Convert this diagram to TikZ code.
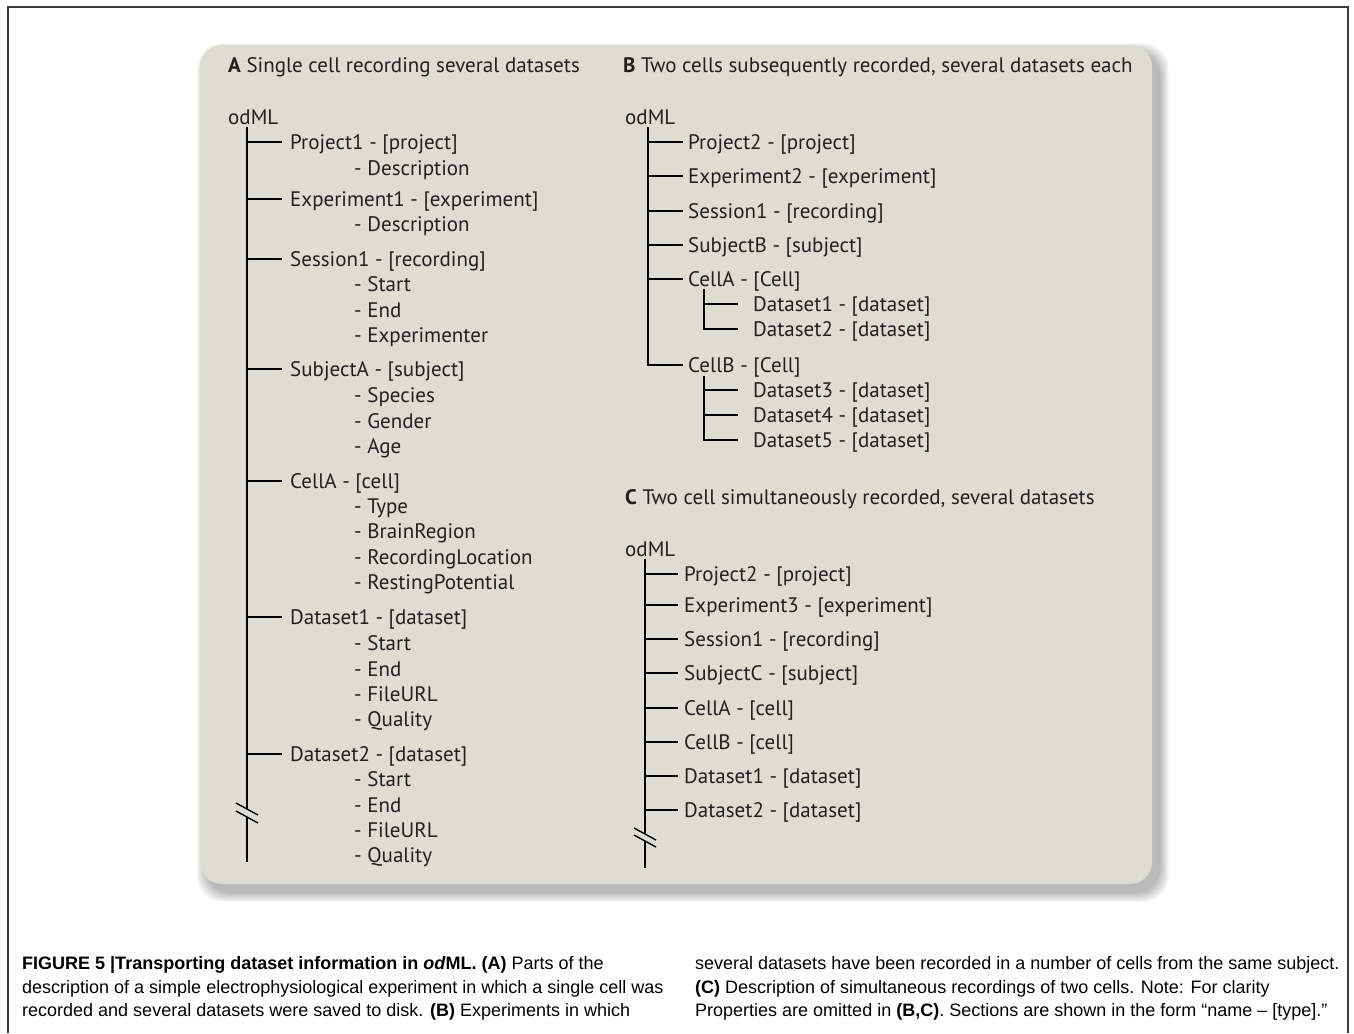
\documentclass[tikz,border=0pt]{standalone}
\usepackage{fontspec}
\setmainfont{PT Sans}
\newfontfamily\capfont{Liberation Sans}
\usetikzlibrary{positioning}
\definecolor{panelgrey}{RGB}{221,221,211}
\definecolor{inkgrey}{RGB}{35,31,32}
\definecolor{framegrey}{RGB}{60,60,60}

\begin{document}
\begin{tikzpicture}[
  x=1pt, y=-1pt,
  title/.style={anchor=west, inner sep=0pt, text=inkgrey, text height=15pt, text depth=0pt, font=\fontsize{21}{25}\selectfont},
  sec/.style={anchor=west, inner sep=0pt, text=inkgrey, text height=15pt, text depth=0pt, font=\fontsize{21}{25}\selectfont},
  prop/.style={anchor=north west, inner sep=0pt, text=inkgrey, align=left, font=\fontsize{21}{25.4}\selectfont},
  branch/.style={line width=1.8pt, black},
  cutmark/.style={line width=1.4pt, black},
  capline/.style={anchor=base west, inner sep=0pt, text=black, font=\capfont\fontsize{18}{23.5}\selectfont}
]
\useasboundingbox (0,0) rectangle (1354,1033);

% Outer frame
\draw[framegrey, line width=1.5pt] (8,1033) -- (8,7) -- (1348,7) -- (1348,1033);

% Panel with soft shadow
\foreach \s in {0,...,9}{
  \fill[black, opacity=0.03, rounded corners=26pt] (206-\s,52-\s) rectangle (1160+\s,893+\s);
}
\fill[panelgrey, rounded corners=22pt] (200,45) rectangle (1152,884);

% A: single cell, several datasets
\node[title] (titleA) at (228,65) {\textbf{A} Single cell recording several datasets};
\node[sec] (odmlA) at (228,117) {odML};
\coordinate (trunkA) at (247,127);
\coordinate (cutA1) at (247,809);
\coordinate (cutA2) at (247,817);
\coordinate (endA) at (247,862);

\node[sec] (project1) at (290,142) {Project1 - [project]};
\node[prop] (project1p) at (354,160.5) {- Description};
\node[sec] (experiment1) at (290,199) {Experiment1 - [experiment]};
\node[prop] (experiment1p) at (354,216.5) {- Description};
\node[sec] (session1A) at (290,259) {Session1 - [recording]};
\node[prop] (session1Ap) at (354,276.5) {- Start\\- End\\- Experimenter};
\node[sec] (subjectA) at (290,369) {SubjectA - [subject]};
\node[prop] (subjectAp) at (354,387.5) {- Species\\- Gender\\- Age};
\node[sec] (cellAA) at (290,481) {CellA - [cell]};
\node[prop] (cellAAp) at (354,498.5) {- Type\\- BrainRegion\\- RecordingLocation\\- RestingPotential};
\node[sec] (dataset1A) at (290,617) {Dataset1 - [dataset]};
\node[prop] (dataset1Ap) at (354,635.5) {- Start\\- End\\- FileURL\\- Quality};
\node[sec] (dataset2A) at (290,754) {Dataset2 - [dataset]};
\node[prop] (dataset2Ap) at (354,771.5) {- Start\\- End\\- FileURL\\- Quality};

\draw[branch] (trunkA) -- (cutA1);
\draw[branch] (cutA2) -- (endA);
\draw[cutmark] ([shift={(-11,-6)}]cutA1) -- ([shift={(11,6)}]cutA1);
\draw[cutmark] ([shift={(-11,-6)}]cutA2) -- ([shift={(11,6)}]cutA2);
\draw[branch] (trunkA |- project1.west) -- ([xshift=-8pt]project1.west);
\draw[branch] (trunkA |- experiment1.west) -- ([xshift=-8pt]experiment1.west);
\draw[branch] (trunkA |- session1A.west) -- ([xshift=-8pt]session1A.west);
\draw[branch] (trunkA |- subjectA.west) -- ([xshift=-8pt]subjectA.west);
\draw[branch] (trunkA |- cellAA.west) -- ([xshift=-8pt]cellAA.west);
\draw[branch] (trunkA |- dataset1A.west) -- ([xshift=-8pt]dataset1A.west);
\draw[branch] (trunkA |- dataset2A.west) -- ([xshift=-8pt]dataset2A.west);

% B: two cells recorded one after the other
\node[title] (titleB) at (623,65) {\textbf{B} Two cells subsequently recorded, several datasets each};
\node[sec] (odmlB) at (625,117) {odML};
\coordinate (trunkB) at (648,127);

\node[sec] (project2B) at (688,142) {Project2 - [project]};
\node[sec] (experiment2) at (688,176) {Experiment2 - [experiment]};
\node[sec] (session1B) at (688,211) {Session1 - [recording]};
\node[sec] (subjectB) at (688,245) {SubjectB - [subject]};
\node[sec] (cellAB) at (688,279) {CellA - [Cell]};
\node[sec] (dataset1B) at (753,304) {Dataset1 - [dataset]};
\node[sec] (dataset2B) at (753,329) {Dataset2 - [dataset]};
\node[sec] (cellBB) at (688,365) {CellB - [Cell]};
\node[sec] (dataset3B) at (753,390) {Dataset3 - [dataset]};
\node[sec] (dataset4B) at (753,415) {Dataset4 - [dataset]};
\node[sec] (dataset5B) at (753,440) {Dataset5 - [dataset]};
\coordinate (subAB) at (704,289);
\coordinate (subBB) at (704,376);

\draw[branch] (trunkB) |- ([xshift=-5pt]cellBB.west);
\draw[branch] (trunkB |- project2B.west) -- ([xshift=-5pt]project2B.west);
\draw[branch] (trunkB |- experiment2.west) -- ([xshift=-5pt]experiment2.west);
\draw[branch] (trunkB |- session1B.west) -- ([xshift=-5pt]session1B.west);
\draw[branch] (trunkB |- subjectB.west) -- ([xshift=-5pt]subjectB.west);
\draw[branch] (trunkB |- cellAB.west) -- ([xshift=-5pt]cellAB.west);
\draw[branch] (subAB) |- ([xshift=-15pt]dataset2B.west);
\draw[branch] (subAB |- dataset1B.west) -- ([xshift=-15pt]dataset1B.west);
\draw[branch] (subBB) |- ([xshift=-15pt]dataset5B.west);
\draw[branch] (subBB |- dataset3B.west) -- ([xshift=-15pt]dataset3B.west);
\draw[branch] (subBB |- dataset4B.west) -- ([xshift=-15pt]dataset4B.west);

% C: two cells recorded at the same time
\node[title] (titleC) at (625,497) {\textbf{C} Two cell simultaneously recorded, several datasets};
\node[sec] (odmlC) at (625,549) {odML};
\coordinate (trunkC) at (645,559);
\coordinate (cutC1) at (645,834);
\coordinate (cutC2) at (645,841);
\coordinate (endC) at (645,868);

\node[sec] (project2C) at (684,574) {Project2 - [project]};
\node[sec] (experiment3) at (684,605) {Experiment3 - [experiment]};
\node[sec] (session1C) at (684,639) {Session1 - [recording]};
\node[sec] (subjectC) at (684,673) {SubjectC - [subject]};
\node[sec] (cellAC) at (684,708) {CellA - [cell]};
\node[sec] (cellBC) at (684,742) {CellB - [cell]};
\node[sec] (dataset1C) at (684,776) {Dataset1 - [dataset]};
\node[sec] (dataset2C) at (684,810) {Dataset2 - [dataset]};

\draw[branch] (trunkC) -- (cutC1);
\draw[branch] (cutC2) -- (endC);
\draw[cutmark] ([shift={(-11,-6)}]cutC1) -- ([shift={(11,6)}]cutC1);
\draw[cutmark] ([shift={(-11,-6)}]cutC2) -- ([shift={(11,6)}]cutC2);
\draw[branch] (trunkC |- project2C.west) -- ([xshift=-6pt]project2C.west);
\draw[branch] (trunkC |- experiment3.west) -- ([xshift=-6pt]experiment3.west);
\draw[branch] (trunkC |- session1C.west) -- ([xshift=-6pt]session1C.west);
\draw[branch] (trunkC |- subjectC.west) -- ([xshift=-6pt]subjectC.west);
\draw[branch] (trunkC |- cellAC.west) -- ([xshift=-6pt]cellAC.west);
\draw[branch] (trunkC |- cellBC.west) -- ([xshift=-6pt]cellBC.west);
\draw[branch] (trunkC |- dataset1C.west) -- ([xshift=-6pt]dataset1C.west);
\draw[branch] (trunkC |- dataset2C.west) -- ([xshift=-6pt]dataset2C.west);

% Caption
\node[capline] (capL1) at (22,969) {\textbf{FIGURE 5 |Transporting dataset information in \textit{od}ML. (A)} Parts of the};
\node[capline] (capL2) at (22,993) {description of a simple electrophysiological experiment in which a single cell was};
\node[capline] (capL3) at (22,1016) {recorded and several datasets were saved to disk. \textbf{(B)} Experiments in which};
\node[capline] (capR1) at (695,969) {several datasets have been recorded in a number of cells from the same subject.};
\node[capline] (capR2) at (695,993) {\textbf{(C)} Description of simultaneous recordings of two cells. Note: For clarity};
\node[capline] (capR3) at (695,1016) {Properties are omitted in \textbf{(B,C)}. Sections are shown in the form “name – [type].”};
\end{tikzpicture}
\end{document}
